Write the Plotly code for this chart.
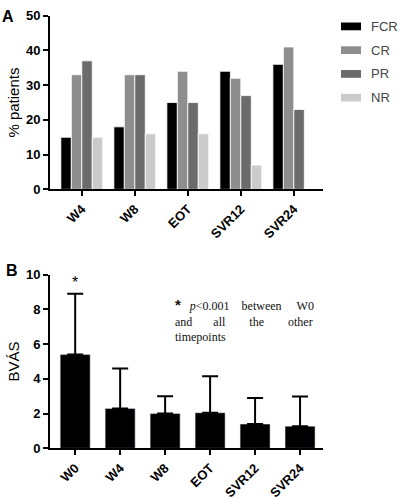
import plotly.graph_objects as go

# Panel A data
timepoints_a = ["W4", "W8", "EOT", "SVR12", "SVR24"]
series_names = ["FCR", "CR", "PR", "NR"]
fcr = [15, 18, 25, 34, 36]
cr = [33, 33, 34, 32, 41]
pr = [37, 33, 25, 27, 23]
nr = [15, 16, 16, 7, 0]
series_colors = ["#000000", "#8e8e8e", "#6b6b6b", "#cbcbcb"]

# Panel B data
timepoints_b = ["W0", "W4", "W8", "EOT", "SVR12", "SVR24"]
bvas_mean = [5.4, 2.3, 2.0, 2.05, 1.4, 1.28]
bvas_sd = [3.5, 2.3, 1.0, 2.1, 1.5, 1.7]

fig = go.Figure()
for name, vals, col in zip(series_names, [fcr, cr, pr, nr], series_colors):
    fig.add_trace(go.Bar(x=timepoints_a, y=vals, name=name, marker_color=col,
                         marker_line=dict(color="white", width=0.8),
                         xaxis="x", yaxis="y", showlegend=False))

fig.add_trace(go.Bar(x=timepoints_b, y=bvas_mean, marker_color="black",
                     width=0.667, xaxis="x2", yaxis="y2", showlegend=False,
                     error_y=dict(type="data", array=bvas_sd, arrayminus=[0]*len(bvas_sd),
                                  symmetric=False, color="black", thickness=2, width=8)))

axis_font = dict(family="Liberation Sans", size=13, color="black", weight="bold")
common_x = dict(showline=True, linecolor="black", linewidth=2, ticks="outside",
                ticklen=5, tickwidth=1.5, tickcolor="black", tickangle=-45,
                tickfont=axis_font, showgrid=False, zeroline=False,
                domain=[0.1253, 0.8095])
common_y = dict(showline=True, linecolor="black", linewidth=2, ticks="outside",
                ticklen=5, tickwidth=1.5, tickcolor="black", tickfont=axis_font,
                showgrid=False, zeroline=False)

fig.update_layout(
    width=399, height=500, margin=dict(l=0, r=0, t=0, b=0),
    paper_bgcolor="white", plot_bgcolor="white",
    barmode="group", bargap=0.21, bargroupgap=0,
    xaxis=dict(**common_x, anchor="y", range=[-0.6, 4.55]),
    yaxis=dict(**common_y, anchor="x", domain=[0.624, 0.982], range=[0, 50],
               dtick=10, title=dict(text="% patients", standoff=3,
                                    font=dict(family="Liberation Sans", size=15, color="black"))),
    xaxis2=dict(**common_x, anchor="y2", range=[-0.56, 5.51]),
    yaxis2=dict(**common_y, anchor="x2", domain=[0.09, 0.448], range=[0, 10],
                dtick=2, title=dict(text="BVÁS", standoff=3,
                                    font=dict(family="Liberation Sans", size=15, color="black"))),
)

# Panel labels
fig.add_annotation(x=8/399, y=1-10/500, xref="paper", yref="paper", text="<b>A</b>",
                   xanchor="center", yanchor="middle",
                   showarrow=False, font=dict(family="Liberation Sans", size=16, color="black"))
fig.add_annotation(x=12/399, y=1-272/500, xref="paper", yref="paper", text="<b>B</b>",
                   xanchor="center", yanchor="middle",
                   showarrow=False, font=dict(family="Liberation Sans", size=16, color="black"))

# Custom legend
for i, (name, col) in enumerate(zip(series_names, series_colors)):
    yc = 1 - (20 + i * 24.5) / 500
    fig.add_shape(type="rect", xref="paper", yref="paper",
                  x0=341/399, x1=361/399, y0=yc - 4/500, y1=yc + 4/500,
                  fillcolor=col, line=dict(width=0))
    fig.add_annotation(x=369/399, y=yc, xref="paper", yref="paper", text=name,
                       xanchor="left", yanchor="middle", showarrow=False,
                       font=dict(family="Liberation Sans", size=13, color="#444444"))

# Asterisk above W0
fig.add_annotation(x=timepoints_b[0], y=9.55, xref="x2", yref="y2", text="*",
                   showarrow=False, font=dict(family="Liberation Sans", size=16, color="black"))

# p-value note (justified text, one block)
nb = "&nbsp;"
note = ("<span style='font-family:Liberation Sans;font-size:15px'><b>*</b></span>" + nb * 3
        + "<i>p</i>&lt;0.001" + nb * 4 + "between" + nb * 5 + "W0<br>"
        + "and" + nb * 7 + "all" + nb * 8 + "the" + nb * 8 + "other<br>"
        + "timepoints")
fig.add_annotation(x=173/399, y=1-323/500, xref="paper", yref="paper", text=note,
                   xanchor="left", yanchor="middle", align="left", showarrow=False,
                   font=dict(family="Liberation Serif", size=12, color="#111111"))

fig.write_html("out.html", config={"displayModeBar": False},
               post_script="document.documentElement.style.margin='0';"
                           "document.body.style.margin='0';"
                           "document.body.style.overflow='hidden';")
